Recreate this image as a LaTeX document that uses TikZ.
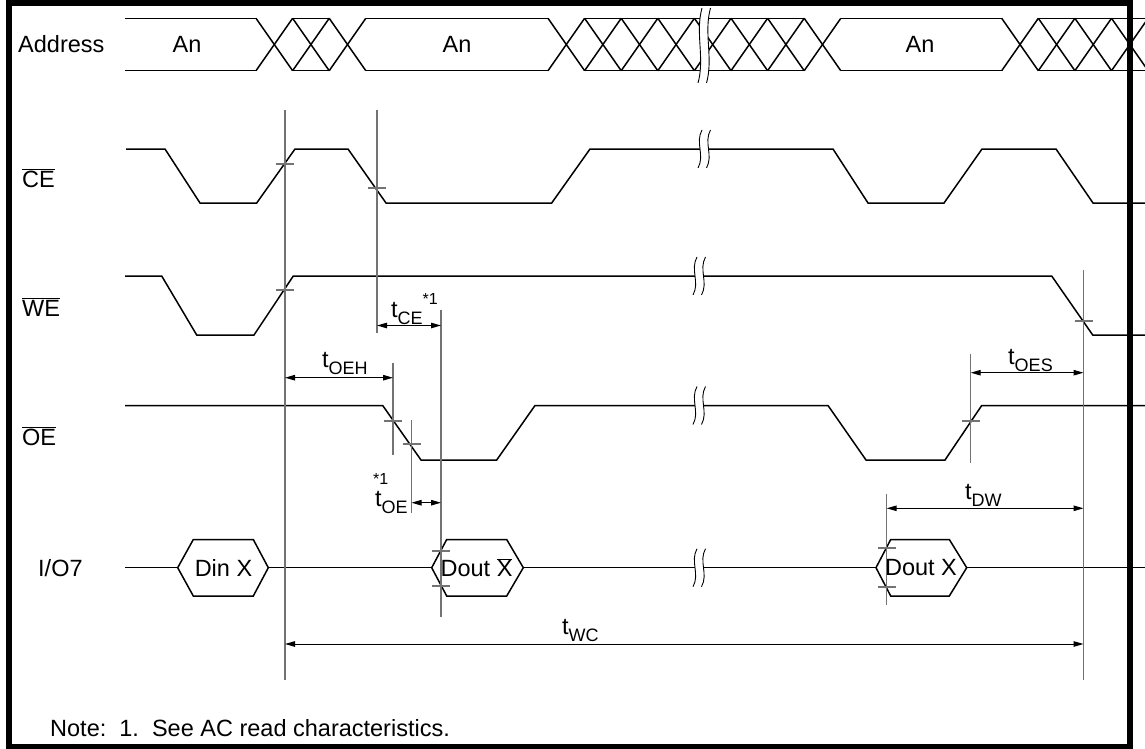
\documentclass[tikz,border=0pt]{standalone}
\usepackage{fontspec}
\setmainfont{Liberation Sans}
\usetikzlibrary{arrows.meta}
\newcommand{\tsb}[1]{t\raisebox{-0.3em}{\fontsize{18}{18}\selectfont #1}}
\newcommand{\supone}{\raisebox{0.55em}{\fontsize{16}{16}\selectfont *1}}
\newcommand{\ovl}[1]{\ensuremath{\overline{\mbox{#1}}}}
\newcommand{\brkmark}[3]{%
  \fill[white] (#1+2,#2-#3) .. controls (#1-5,#2-#3/3) and (#1+5,#2+#3/3) .. (#1-2,#2+#3)
     -- (#1+6.5,#2+#3) .. controls (#1+13.5,#2+#3/3) and (#1+3.5,#2-#3/3) .. (#1+10.5,#2-#3) -- cycle;
  \draw[brkline] (#1+2,#2-#3) .. controls (#1-5,#2-#3/3) and (#1+5,#2+#3/3) .. (#1-2,#2+#3);
  \draw[brkline] (#1+10.5,#2-#3) .. controls (#1+3.5,#2-#3/3) and (#1+13.5,#2+#3/3) .. (#1+6.5,#2+#3);
}
\begin{document}
\begin{tikzpicture}[x=1pt,y=-1pt,
  sig/.style={line width=1.5pt, line join=miter},
  guide/.style={draw=black!55, line width=1.2pt},
  tick/.style={draw=black!55, line width=1.2pt},
  brkline/.style={line width=0.9pt},
  dim/.style={line width=1pt, {Triangle[length=10pt,width=5.5pt]}-{Triangle[length=10pt,width=5.5pt]}},
  lbl/.style={font=\fontsize{23.5}{27}\selectfont, inner sep=0pt},
]
\useasboundingbox (0,0) rectangle (1145,749);

% ---------- Address bus ----------
\def\top{18.3}\def\bot{70.7}\def\hh{18.3}
\foreach \a/\b in {125/256, 292.6/329.2, 365.8/548, 584.6/804.2, 840.8/1001.7, 1038.3/1145}{
  \draw[sig] (\a,\top) -- (\b,\top);
  \draw[sig] (\a,\bot) -- (\b,\bot);
}
\foreach \c in {274.3,310.9,347.5,566.3,602.9,639.5,676.1,712.7,749.3,785.9,822.5,1020,1056.6,1093.2,1129.8}{
  \draw[sig] (\c-\hh,\top) -- (\c+\hh,\bot);
  \draw[sig] (\c-\hh,\bot) -- (\c+\hh,\top);
}
\node[lbl, anchor=west] (lAddr) at (18,44.5) {Address};
\node[lbl] (an1) at (187,44.5) {An};
\node[lbl] (an2) at (457,44.5) {An};
\node[lbl] (an3) at (920,44.5) {An};

% ---------- CE ----------
\draw[sig] (126,149) -- (165,149) -- (200,203) -- (256.7,203) -- (295,149) -- (348,149) -- (386,203)
  -- (551.7,203) -- (590,149) -- (833,149) -- (868,203) -- (944,203) -- (982,149) -- (1056,149)
  -- (1093,203) -- (1145,203);
\node[lbl, anchor=west] (lCE) at (22,178) {\ovl{CE}};

% ---------- WE ----------
\draw[sig] (125,276) -- (161.7,276) -- (196.7,335) -- (254,335) -- (293.3,276) -- (1051.7,276)
  -- (1092.7,335) -- (1145,335);
\node[lbl, anchor=west] (lWE) at (22,307) {\ovl{WE}};

% ---------- OE ----------
\draw[sig] (125,405.5) -- (382.7,405.5) -- (421,460) -- (496.7,460) -- (535,405.5) -- (828,405.5)
  -- (866,460) -- (945,460) -- (981.7,405.5) -- (1145,405.5);
\node[lbl, anchor=west] (lOE) at (22,436) {\ovl{OE}};

% ---------- I/O7 ----------
\def\ym{567.7}\def\yt{539.5}\def\yb{596}
\draw[sig] (125,\ym) -- (177.7,\ym);
\draw[sig] (177.7,\ym) -- (193.3,\yt) -- (253.3,\yt) -- (268.3,\ym) -- (253.3,\yb) -- (193.3,\yb) -- cycle;
\draw[sig] (268.3,\ym) -- (431.7,\ym);
\draw[sig] (431.7,\ym) -- (446.7,\yt) -- (506.7,\yt) -- (523.3,\ym) -- (506.7,\yb) -- (446.7,\yb) -- cycle;
\draw[sig] (523.3,\ym) -- (876,\ym);
\draw[sig] (876,\ym) -- (890.7,\yt) -- (949.3,\yt) -- (966.7,\ym) -- (949.3,\yb) -- (890.7,\yb) -- cycle;
\draw[sig] (966.7,\ym) -- (1145,\ym);
\node[lbl, anchor=west] (lIO) at (38,\ym) {I/O7};
\node[lbl] (din) at (223.5,\ym) {Din X};
\node[lbl] (doutb) at (476.5,\ym) {Dout \ovl{X}};
\node[lbl] (dout) at (921,\ym) {Dout X};

% ---------- breaks ----------
\brkmark{700}{45.5}{37.5}
\brkmark{700}{149}{19}
\brkmark{695}{276}{19}
\brkmark{695}{405.5}{19}
\brkmark{695}{\ym}{19}

% ---------- guide lines ----------
\draw[guide] (285,110) -- (285,680);
\draw[guide] (377,110) -- (377,333);
\draw[guide] (393,363) -- (393,455);
\draw[guide] (411.5,420) -- (411.5,513);
\draw[guide] (441,310) -- (441,617);
\draw[guide] (970.7,354) -- (970.7,463);
\draw[guide] (1083.5,270) -- (1083.5,680);
\draw[guide] (886.7,494) -- (886.7,605);
% ticks
\foreach \x/\y in {285/164, 285/290, 377/188, 393/421, 411.5/444, 441/551, 441/586, 970.7/421, 1083.5/321, 886.7/548, 886.7/587}{
  \draw[tick] (\x-9,\y) -- (\x+9,\y);
}

% ---------- dimension arrows ----------
\coordinate (ce1) at (377,325.5);  \coordinate (ce2) at (441,325.5);
\coordinate (oeh1) at (285,377.7); \coordinate (oeh2) at (393,377.7);
\coordinate (oe1) at (411.5,502.7); \coordinate (oe2) at (441,502.7);
\coordinate (oes1) at (970.7,372.7); \coordinate (oes2) at (1083.5,372.7);
\coordinate (dw1) at (886.7,508.3); \coordinate (dw2) at (1083.5,508.3);
\coordinate (wc1) at (285,644); \coordinate (wc2) at (1083.5,644);
\draw[dim] (ce1) -- (ce2);
\draw[dim] (oeh1) -- (oeh2);
\draw[dim] (oe1) -- (oe2);
\draw[dim] (oes1) -- (oes2);
\draw[dim] (dw1) -- (dw2);
\draw[dim] (wc1) -- (wc2);

\node[lbl, anchor=base west] (tce) at (391,317) {\tsb{CE}\supone};
\node[lbl, anchor=base west] (toeh) at (322,367) {\tsb{OEH}};
\node[lbl, anchor=base west] (toe) at (375,506) {\tsb{OE}};
\node[lbl, anchor=base west, font=\fontsize{16}{16}\selectfont] (toes1) at (373,484) {*1};
\node[lbl, anchor=base west] (toes) at (1008,364) {\tsb{OES}};
\node[lbl, anchor=base west] (tdw) at (965,499) {\tsb{DW}};
\node[lbl, anchor=base west] (twc) at (562,634) {\tsb{WC}};

% ---------- note ----------
\node[lbl, anchor=base west] (note) at (50,736) {Note:\ \ 1.\ \ See AC read characteristics.};

% ---------- frame ----------
\draw[line width=6pt] (9,3) rectangle (1129.5,746.5);
\end{tikzpicture}
\end{document}
